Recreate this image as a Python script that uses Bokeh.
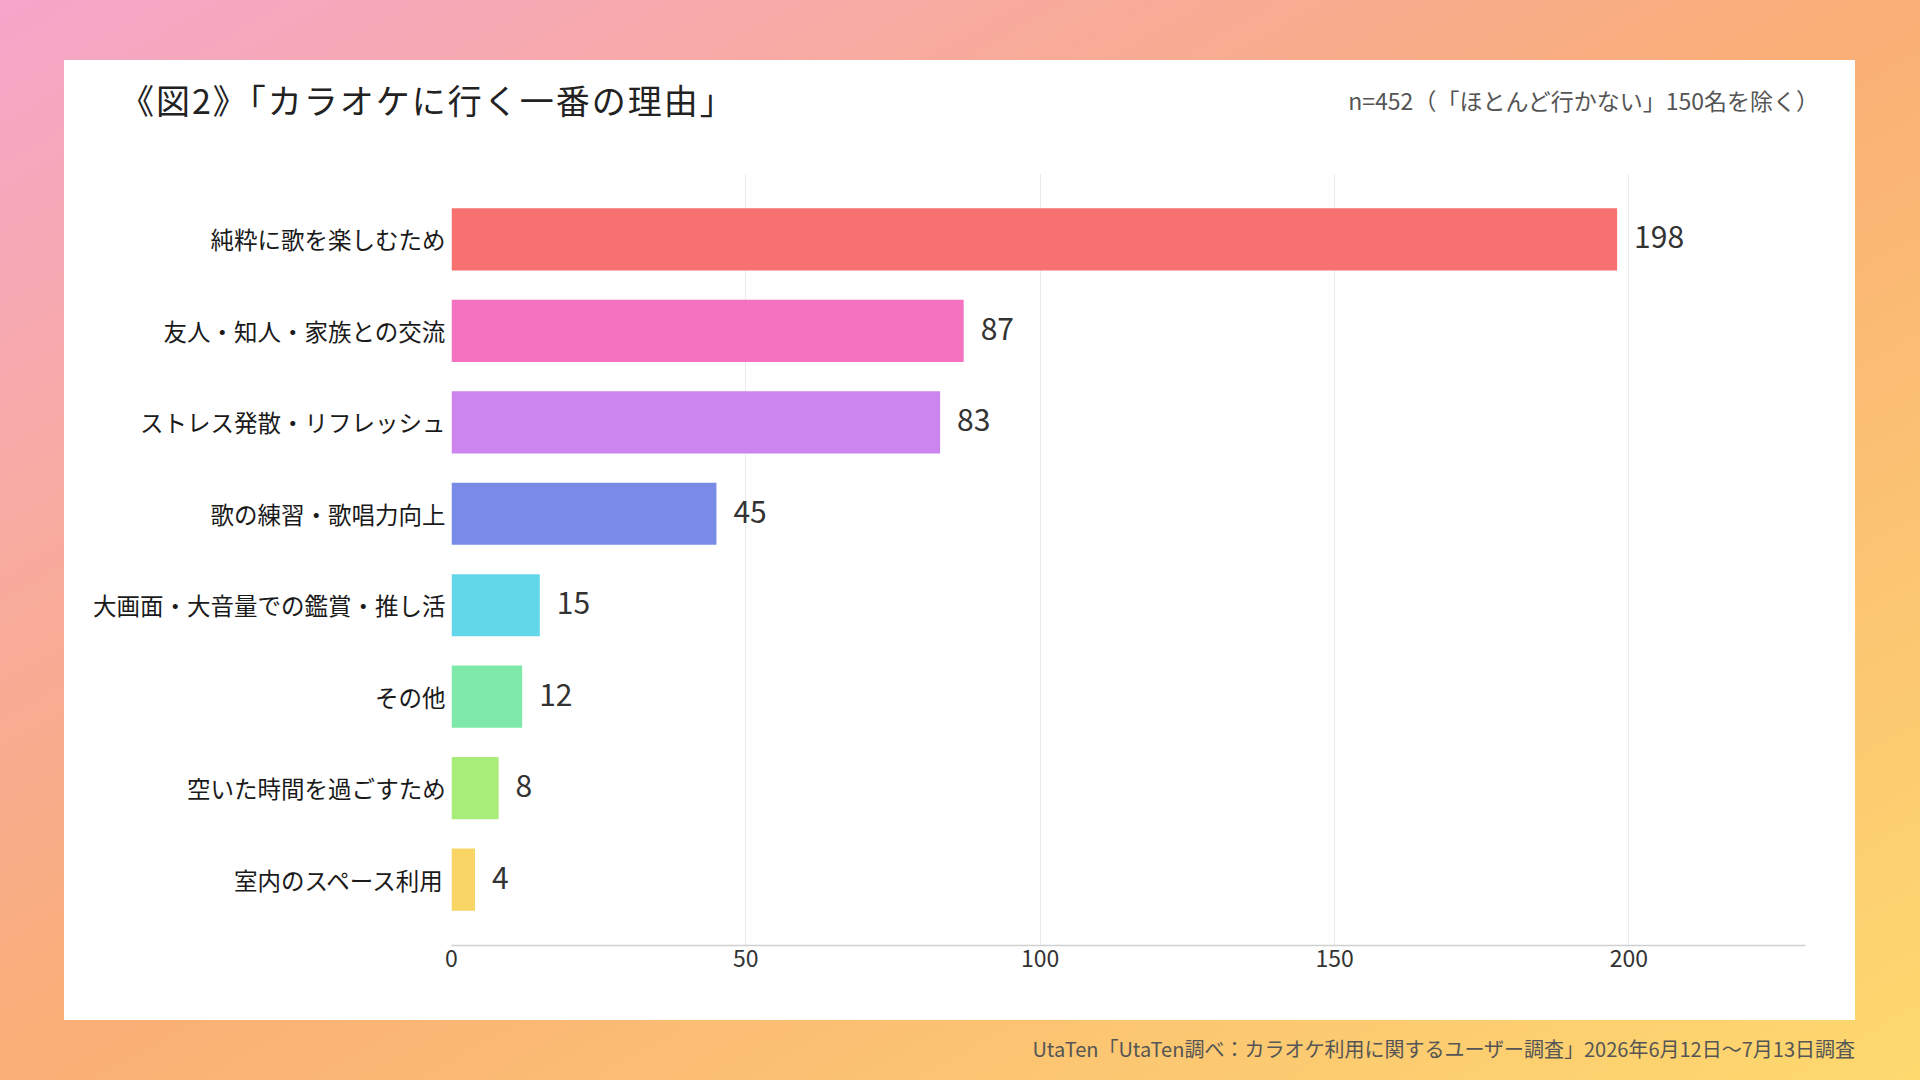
from bokeh.plotting import figure
from bokeh.models import ColumnDataSource, FactorRange, LabelSet, Div, FixedTicker
from bokeh.layouts import column
from bokeh.embed import file_html
from bokeh.resources import INLINE
from bokeh.core.properties import value

# ---- data ----
categories = [
    "純粋に歌を楽しむため",
    "友人・知人・家族との交流",
    "ストレス発散・リフレッシュ",
    "歌の練習・歌唱力向上",
    "大画面・大音量での鑑賞・推し活",
    "その他",
    "空いた時間を過ごすため",
    "室内のスペース利用",
]
counts = [198, 87, 83, 45, 15, 12, 8, 4]
bar_colors = ["#F87171", "#F472C0", "#CC85EE", "#778BE7", "#61D7E9", "#7FE9A9", "#A8EC7A", "#F8D564"]
x_ticks = [0, 50, 100, 150, 200]
title_text = "《図2》「カラオケに行く一番の理由」"
subtitle_text = "n=452（「ほとんど行かない」150名を除く）"
source_text = "UtaTen「UtaTen調べ：カラオケ利用に関するユーザー調査」2026年6月12日～7月13日調査"

FONT = "Noto Sans CJK JP"

src = ColumnDataSource(dict(
    cat=categories,
    count=counts,
    color=bar_colors,
    label=[str(c) for c in counts],
))

CARD_W = 1791
HEADER_H = 103

header = Div(
    text=(
        f'<div style="position:relative;width:{CARD_W}px;height:{HEADER_H}px;font-family:\'{FONT}\';">'
        f'<span style="position:absolute;left:56px;top:20px;font-size:34px;line-height:40px;'
        f'letter-spacing:2px;color:#222222;white-space:nowrap;">{title_text}</span>'
        f'<span style="position:absolute;right:36px;top:27px;font-size:23px;line-height:26px;'
        f'color:#555555;white-space:nowrap;text-spacing-trim:space-all;">{subtitle_text}</span>'
        f'</div>'
    ),
    width=CARD_W, height=HEADER_H, margin=(60, 65, 0, 64),
    styles={"background-color": "white"},
)

p = figure(
    width=CARD_W, height=960 - HEADER_H,
    y_range=FactorRange(factors=categories[::-1], range_padding=0.055),
    x_range=(0, 230),
    output_backend="svg", toolbar_location=None,
    min_border_left=387, min_border_right=50,
    min_border_top=10, min_border_bottom=75,
)
p.margin = (0, 65, 0, 64)
p.styles = {"background-color": "white"}
p.outline_line_color = None
p.background_fill_color = "white"
p.border_fill_color = "white"

p.hbar(y="cat", right="count", left=0, height=0.68, color="color",
       line_color=None, source=src)

labels = LabelSet(x="count", y="cat", text="label", source=src, x_offset=17, y_offset=2,
                  text_font=value(FONT), text_font_size="30px",
                  text_color="#333333", text_baseline="middle", text_align="left")
p.add_layout(labels)

# axes
p.xaxis.ticker = FixedTicker(ticks=x_ticks)
p.xgrid.ticker = FixedTicker(ticks=x_ticks)
p.xaxis.major_tick_line_color = None
p.xaxis.minor_tick_line_color = None
p.xaxis.axis_line_color = "#d0d0d0"
p.xaxis.axis_line_width = 1.5
p.xaxis.major_label_standoff = -2
p.xaxis.major_label_text_font = FONT
p.xaxis.major_label_text_font_size = "23px"
p.xaxis.major_label_text_color = "#333333"

p.yaxis.axis_line_color = None
p.yaxis.major_tick_line_color = None
p.yaxis.minor_tick_line_color = None
p.yaxis.major_label_standoff = 0
p.yaxis.major_label_text_font = FONT
p.yaxis.major_label_text_font_size = "23.5px"
p.yaxis.major_label_text_color = "#1a1a1a"

p.xgrid.grid_line_color = "#ebebeb"
p.xgrid.grid_line_width = 1
p.ygrid.grid_line_color = None

foot = Div(text=source_text, width=CARD_W, height=24, margin=(17, 65, 0, 64),
           styles={"font-family": FONT, "font-size": "20px", "color": "#555555",
                   "text-align": "right", "line-height": "24px", "white-space": "nowrap"})

layout = column(
    header, p, foot, width=1920, height=1080,
    styles={
        "position": "absolute", "left": "0px", "top": "0px",
        "background": "linear-gradient(to bottom right, #f5a6ca 0%, #faaf76 50%, #fdd96e 100%)",
    },
)

open("out.html", "w").write(file_html(layout, INLINE))
